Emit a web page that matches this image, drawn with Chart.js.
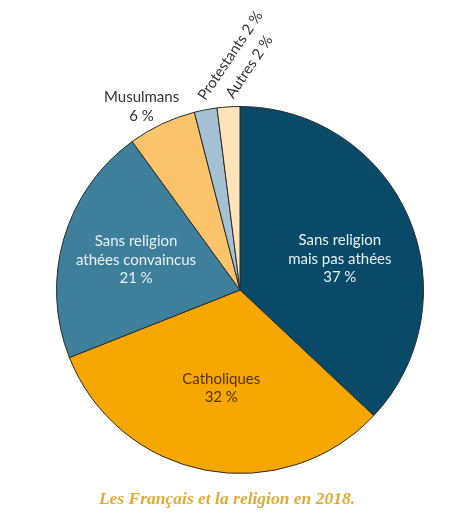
<!DOCTYPE html>
<html lang="fr">
<head>
<meta charset="utf-8">
<title>Les Français et la religion en 2018</title>
<script src="https://cdn.jsdelivr.net/npm/chart.js@4/dist/chart.umd.min.js"></script>
<style>
  html, body { margin: 0; padding: 0; background: #fff; }
  #wrap { width: 474px; height: 524px; }
</style>
</head>
<body>
<div id="wrap"><canvas id="religion-chart"></canvas></div>
<script>
// === Données ===
const categories = [
  ['Sans religion', 'mais pas athées'],
  ['Catholiques'],
  ['Sans religion', 'athées convaincus'],
  ['Musulmans'],
  ['Protestants'],
  ['Autres']
];
const valeurs = [37, 32, 21, 6, 2, 2];
const couleurs = ['#084a68', '#f5a700', '#3e7f9c', '#fbc46b', '#a5c2d5', '#fee2b8'];
const titre = 'Les Français et la religion en 2018.';

// placement des étiquettes : fraction du rayon, décalage d'angle (degrés), rotation
const placement = [
  { r: 0.57, da: 6, rot: 0, color: '#e8f1f6' },
  { r: 0.545, da: 0, rot: 0, color: '#5b3000' },
  { r: 0.59, da: 0, rot: 0, color: '#e8f1f6' },
  { r: 1.135, da: -3, rot: 0, color: '#333333' },
  { r: 1.065, da: -0.6, rot: -56, color: '#333333' },
  { r: 1.056, da: 0.4, rot: -56, color: '#333333' }
];

const pourcent = v => `${v}\u202F%`;

const etiquettes = {
  id: 'etiquettes',
  afterDatasetsDraw(chart) {
    const ctx = chart.ctx;
    const arcs = chart.getDatasetMeta(0).data;
    ctx.save();
    ctx.font = '15px Lato, "Noto Sans", sans-serif';
    arcs.forEach((arc, i) => {
      const { x, y, startAngle, endAngle, outerRadius } =
        arc.getProps(['x', 'y', 'startAngle', 'endAngle', 'outerRadius'], true);
      const p = placement[i];
      const a = (startAngle + endAngle) / 2 + p.da * Math.PI / 180;
      const px = x + Math.cos(a) * outerRadius * p.r;
      const py = y + Math.sin(a) * outerRadius * p.r;
      ctx.fillStyle = p.color;
      if (p.rot) {
        // étiquette inclinée sur une seule ligne
        ctx.save();
        ctx.translate(px, py);
        ctx.rotate(p.rot * Math.PI / 180);
        ctx.textAlign = 'left';
        ctx.textBaseline = 'middle';
        ctx.fillText(categories[i].join(' ') + ' ' + pourcent(valeurs[i]), 0, 0);
        ctx.restore();
      } else {
        const lignes = [...categories[i], pourcent(valeurs[i])];
        const h = 18.5;
        ctx.textAlign = 'center';
        ctx.textBaseline = 'middle';
        lignes.forEach((l, k) => {
          ctx.fillText(l, px, py + (k - (lignes.length - 1) / 2) * h);
        });
      }
    });

    // légende sous le graphique (un peu décalée à gauche comme l'original)
    ctx.font = 'italic bold 17.5px "Liberation Serif", serif';
    ctx.fillStyle = '#e0ac38';
    ctx.textAlign = 'center';
    ctx.textBaseline = 'middle';
    ctx.fillText(titre, 227, 499);
    ctx.restore();
  }
};

const religionChart = new Chart(document.getElementById('religion-chart'), {
  type: 'pie',
  data: {
    labels: categories.map(c => c.join(' ')),
    datasets: [{
      data: valeurs,
      backgroundColor: couleurs,
      borderColor: '#2a2a2a',
      borderWidth: 1
    }]
  },
  options: {
    responsive: true,
    maintainAspectRatio: false,
    animation: false,
    layout: { padding: { left: 56, right: 50, top: 106, bottom: 50 } },
    plugins: {
      legend: { display: false },
      tooltip: { enabled: false },
      title: { display: false }
    }
  },
  plugins: [etiquettes]
});
</script>
</body>
</html>
